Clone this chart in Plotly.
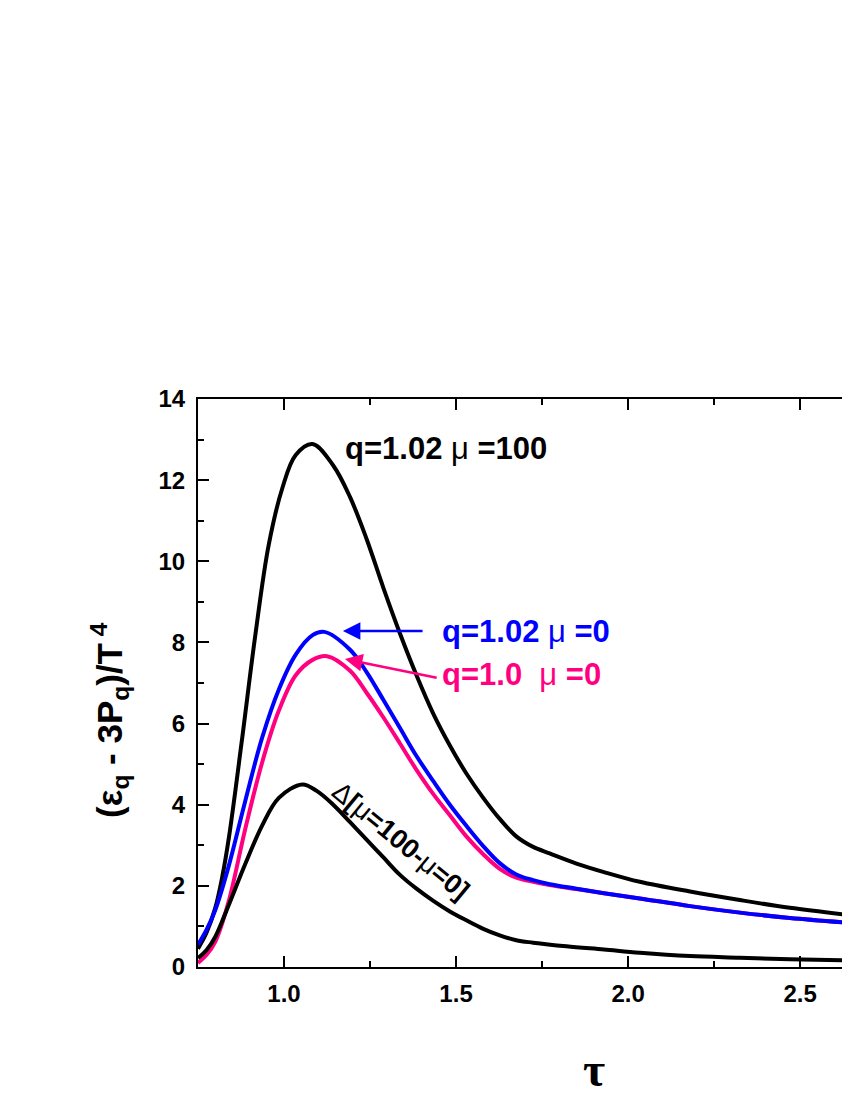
import plotly.graph_objects as go

# tau values and curves
tau_mu100 = [0.75, 0.775, 0.80, 0.82, 0.84, 0.877, 0.916, 0.955, 0.995, 1.034, 1.083, 1.143,
             1.192, 1.240, 1.289, 1.337, 1.385, 1.434, 1.482, 1.530, 1.579, 1.627, 1.675,
             1.724, 1.772, 1.850, 1.93, 2.034, 2.180, 2.325, 2.470, 2.645]
e_mu100 = [0.45, 0.85, 1.45, 2.20, 3.20, 5.55, 8.14, 10.38, 11.80, 12.62, 12.89, 12.36,
           11.58, 10.55, 9.34, 8.22, 7.19, 6.24, 5.46, 4.77, 4.17, 3.65, 3.22,
           2.96, 2.80, 2.55, 2.34, 2.10, 1.86, 1.65, 1.46, 1.28]

tau_q102 = [0.75, 0.775, 0.80, 0.838, 0.887, 0.936, 0.985, 1.034, 1.083, 1.117, 1.192, 1.240,
            1.289, 1.337, 1.385, 1.434, 1.482, 1.530, 1.579, 1.627, 1.675, 1.724, 1.772,
            1.850, 1.93, 2.034, 2.180, 2.325, 2.470, 2.645]
e_q102 = [0.55, 0.92, 1.40, 2.45, 4.08, 5.64, 6.84, 7.70, 8.18, 8.26, 7.82, 7.27,
          6.58, 5.89, 5.20, 4.58, 4.00, 3.48, 2.98, 2.56, 2.28, 2.14, 2.04,
          1.93, 1.82, 1.69, 1.50, 1.34, 1.21, 1.09]

tau_q10 = [0.75, 0.775, 0.80, 0.838, 0.887, 0.936, 0.985, 1.034, 1.083, 1.125, 1.192, 1.240,
           1.289, 1.337, 1.385, 1.434, 1.482, 1.530, 1.579, 1.627, 1.675, 1.724, 1.772,
           1.850, 1.93, 2.034, 2.180, 2.325, 2.470, 2.645]
e_q10 = [0.10, 0.30, 0.62, 1.58, 3.39, 5.03, 6.32, 7.19, 7.57, 7.66, 7.30, 6.76,
         6.15, 5.51, 4.86, 4.26, 3.74, 3.22, 2.78, 2.42, 2.20, 2.10, 2.02,
         1.92, 1.82, 1.69, 1.50, 1.34, 1.21, 1.09]

tau_delta = [0.75, 0.775, 0.80, 0.838, 0.887, 0.936, 0.985, 1.053, 1.095, 1.143, 1.192, 1.240,
             1.289, 1.337, 1.385, 1.434, 1.482, 1.530, 1.579, 1.627, 1.675, 1.724, 1.821,
             1.93, 2.034, 2.180, 2.325, 2.470, 2.645]
e_delta = [0.22, 0.42, 0.74, 1.50, 2.53, 3.48, 4.17, 4.50, 4.34, 4.00, 3.57, 3.14,
           2.70, 2.27, 1.93, 1.63, 1.37, 1.15, 0.94, 0.78, 0.66, 0.60, 0.51,
           0.43, 0.35, 0.27, 0.23, 0.19, 0.16]

fig = go.Figure()
lw = 4
fig.add_trace(go.Scatter(x=tau_mu100, y=e_mu100, mode="lines",
                         line=dict(color="black", width=lw, shape="spline", smoothing=1.0)))
fig.add_trace(go.Scatter(x=tau_q10, y=e_q10, mode="lines",
                         line=dict(color="#ff0080", width=lw, shape="spline", smoothing=1.0)))
fig.add_trace(go.Scatter(x=tau_q102, y=e_q102, mode="lines",
                         line=dict(color="#0000ff", width=lw, shape="spline", smoothing=1.0)))
fig.add_trace(go.Scatter(x=tau_delta, y=e_delta, mode="lines",
                         line=dict(color="black", width=lw, shape="spline", smoothing=1.0)))

font = "Liberation Sans"

# labels and arrows
fig.add_annotation(x=1.172, y=12.79, xanchor="left", yanchor="middle", showarrow=False,
                   text="<b>q=1.02 </b>μ<b> =100</b>",
                   font=dict(family=font, size=31, color="black"))
fig.add_annotation(x=1.453, y=8.26, xanchor="left", yanchor="middle", showarrow=False,
                   text="<b>q=1.02 </b>μ<b> =0</b>",
                   font=dict(family=font, size=31, color="#0000ff"))
fig.add_annotation(x=1.453, y=7.20, xanchor="left", yanchor="middle", showarrow=False,
                   text="<b>q=1.0  </b>μ<b> =0</b>",
                   font=dict(family=font, size=31, color="#ff0080"))
fig.add_annotation(x=1.171, y=8.28, ax=1.407, ay=8.28, axref="x", ayref="y",
                   showarrow=True, arrowhead=2, arrowsize=1.4, arrowwidth=2.5,
                   arrowcolor="#0000ff", text="")
fig.add_annotation(x=1.177, y=7.59, ax=1.448, ay=7.12, axref="x", ayref="y",
                   showarrow=True, arrowhead=2, arrowsize=1.4, arrowwidth=2.5,
                   arrowcolor="#ff0080", text="")
fig.add_annotation(x=1.34, y=3.11, showarrow=False, textangle=39.5,
                   text="Δ<b>[</b>μ<b>=100-</b>μ<b>=0]</b>",
                   font=dict(family=font, size=27, color="black"))

# axis titles
fig.add_annotation(xref="paper", yref="paper", x=-0.135, y=0.435, showarrow=False,
                   xanchor="center", yanchor="middle", textangle=-90,
                   text="<b>(ε<sub>q</sub> - 3P<sub>q</sub>)/T<sup> 4</sup></b>",
                   font=dict(family=font, size=35, color="black"))
fig.add_annotation(xref="paper", yref="paper", x=0.607, y=-0.18, showarrow=False,
                   xanchor="center", yanchor="middle",
                   text="<b>τ</b>", font=dict(family="Liberation Serif", size=48, color="black"))

axis_common = dict(showgrid=False, zeroline=False, showline=True, linecolor="black",
                   linewidth=2, ticks="inside", tickwidth=2, ticklen=11, tickcolor="black",
                   tickfont=dict(family=font, size=24, color="black", weight="bold"))

fig.update_xaxes(range=[0.75, 2.645], tick0=0.5, dtick=0.5, tickformat=".1f", mirror="ticks",
                 ticklabelstandoff=4,
                 minor=dict(ticks="inside", dtick=0.25, tick0=0.25, ticklen=6,
                            tickwidth=2, tickcolor="black"),
                 **axis_common)
fig.update_yaxes(range=[0, 14], dtick=2, mirror=False, ticklabelstandoff=6,
                 minor=dict(ticks="inside", dtick=1, ticklen=6, tickwidth=2, tickcolor="black"),
                 **axis_common)

# the page body adds an 8px margin, so the figure is 8px smaller than the window
fig.update_layout(width=842, height=1092, showlegend=False,
                  plot_bgcolor="white", paper_bgcolor="white",
                  margin=dict(l=190, r=0, t=391, b=133))

fig.write_html("out.html")
